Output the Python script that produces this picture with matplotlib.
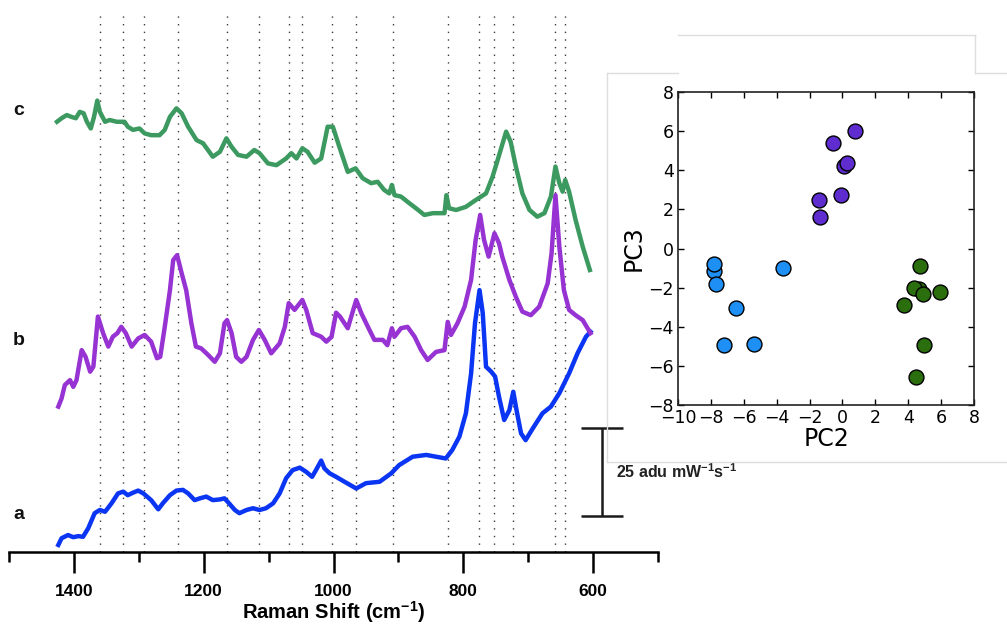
import matplotlib
matplotlib.use('Agg')
import matplotlib.pyplot as plt
from matplotlib.lines import Line2D

plt.rcParams['mathtext.fontset'] = 'custom'
plt.rcParams['mathtext.rm'] = 'Liberation Sans'
plt.rcParams['mathtext.bf'] = 'Liberation Sans:bold'

# ---- spectra (Raman shift in cm-1, intensity in adu mW-1 s-1, offset) ----
wn_c = [1426, 1419, 1411, 1404, 1397, 1391, 1385, 1380, 1374, 1369,
        1364, 1360, 1352, 1345, 1334, 1322, 1317, 1309, 1299, 1291,
        1281, 1268, 1260, 1252, 1242, 1234, 1224, 1211, 1201, 1186,
        1175, 1165, 1157, 1147, 1134, 1122, 1114, 1101, 1088, 1073,
        1065, 1057, 1048, 1040, 1029, 1019, 1009, 1001, 991, 978,
        966, 955, 942, 932, 922, 914, 910, 906, 896, 883,
        873, 860, 847, 829, 826, 822, 811, 796, 781, 765,
        755, 747, 741, 734, 727, 719, 709, 698, 686, 675,
        665, 658, 652, 647, 643, 637, 627, 616, 605]
int_c = [121.9, 122.9, 123.8, 123.3, 122.9, 124.7, 124.3, 121.9, 120.0, 123.3,
         127.9, 124.7, 121.9, 122.4, 121.9, 121.9, 120.5, 119.6, 120.0, 118.6,
         118.1, 118.1, 119.6, 123.3, 125.7, 124.3, 120.5, 116.7, 115.8, 112.0,
         113.4, 117.2, 114.8, 112.5, 112.0, 113.9, 113.0, 110.1, 109.6, 111.5,
         113.0, 111.5, 114.4, 113.4, 110.3, 111.5, 120.5, 120.5, 114.8, 107.7,
         108.7, 105.9, 104.5, 104.9, 102.6, 101.6, 104.0, 101.1, 100.7, 98.8,
         97.4, 95.5, 96.0, 96.0, 101.1, 97.4, 96.9, 97.8, 99.7, 101.6,
         106.3, 111.1, 114.8, 119.1, 116.2, 109.2, 101.6, 96.9, 95.0, 96.0,
         100.7, 109.2, 104.5, 102.1, 105.4, 102.1, 94.1, 86.5, 79.9]

wn_b = [1424, 1419, 1414, 1406, 1401, 1396, 1388, 1382, 1375, 1370,
        1363, 1355, 1347, 1340, 1333, 1327, 1320, 1311, 1301, 1291,
        1281, 1272, 1267, 1260, 1252, 1247, 1241, 1234, 1227, 1219,
        1212, 1204, 1193, 1183, 1175, 1168, 1164, 1157, 1150, 1142,
        1134, 1124, 1115, 1106, 1096, 1083, 1075, 1069, 1060, 1048,
        1042, 1032, 1019, 1011, 1003, 996, 990, 978, 965, 957,
        947, 937, 924, 917, 910, 906, 896, 886, 875, 865,
        855, 842, 829, 824, 819, 809, 798, 788, 781, 774,
        768, 761, 752, 745, 740, 729, 719, 709, 696, 683,
        670, 664, 658, 652, 645, 637, 627, 616, 604]
int_b = [41.2, 43.5, 47.3, 48.7, 46.8, 48.7, 57.2, 55.3, 51.1, 52.5,
         66.7, 62.0, 58.2, 61.0, 62.0, 63.8, 62.0, 58.2, 60.5, 61.5,
         59.6, 54.9, 55.3, 63.8, 74.2, 82.7, 84.1, 79.0, 74.2, 64.8,
         58.2, 57.7, 55.8, 53.9, 56.3, 64.8, 65.7, 62.0, 55.3, 53.9,
         55.3, 60.1, 62.9, 60.1, 56.3, 59.1, 63.8, 70.5, 68.6, 71.4,
         68.6, 62.0, 61.0, 59.6, 61.0, 67.8, 66.7, 63.4, 71.4, 67.6,
         63.8, 60.1, 60.1, 58.6, 63.4, 61.0, 63.4, 63.8, 61.0, 57.2,
         54.4, 56.7, 57.2, 65.2, 61.5, 64.8, 69.5, 77.1, 88.4, 95.5,
         88.4, 83.7, 90.3, 87.5, 83.7, 77.1, 72.3, 68.1, 67.1, 69.5,
         76.1, 84.6, 101.1, 86.5, 74.2, 68.6, 67.1, 65.7, 62.0]

wn_a = [1424, 1419, 1409, 1401, 1393, 1386, 1378, 1368, 1360, 1352,
        1342, 1332, 1324, 1317, 1309, 1301, 1293, 1281, 1270, 1263,
        1252, 1242, 1232, 1224, 1214, 1206, 1196, 1186, 1175, 1168,
        1160, 1152, 1145, 1134, 1124, 1114, 1104, 1093, 1083, 1073,
        1063, 1052, 1042, 1033, 1027, 1019, 1014, 1006, 996, 983,
        965, 950, 929, 911, 899, 878, 857, 842, 827, 817,
        806, 796, 788, 782, 775, 770, 765, 757, 751, 745,
        737, 729, 723, 718, 711, 704, 693, 678, 665, 652,
        637, 624, 611, 604]
int_a = [2.0, 3.9, 4.8, 4.2, 4.5, 4.3, 6.7, 11.0, 11.9, 11.4,
         13.8, 16.6, 17.1, 16.1, 16.8, 17.4, 16.6, 14.7, 12.1, 13.8,
         16.1, 17.4, 17.6, 16.6, 14.7, 15.2, 15.7, 14.7, 14.9, 15.2,
         13.6, 11.9, 11.0, 11.9, 12.4, 11.9, 12.4, 13.8, 16.6, 20.9,
         23.2, 23.9, 22.7, 21.3, 23.2, 25.9, 23.7, 22.3, 21.3, 19.9,
         18.0, 19.5, 19.9, 22.3, 24.6, 27.0, 27.5, 27.0, 26.5, 28.9,
         32.7, 39.3, 50.6, 64.8, 74.2, 67.6, 52.5, 51.1, 49.7, 44.0,
         37.4, 40.2, 45.4, 40.2, 33.6, 31.7, 35.0, 39.3, 41.2, 45.0,
         50.6, 56.3, 61.0, 62.4]

# band positions marked by dotted lines
bands = [1360, 1325, 1292, 1240, 1164, 1115, 1068, 1049, 1003, 965,
         909, 824, 776, 753, 724, 659, 644]

trace_labels = ['a', 'b', 'c']
label_y = [10.5, 59.8, 125.2]

# scale bar: 25 adu mW-1 s-1
bar_len = 25
bar_base = 10.2

# ---- PCA scores (inset) ----
pc2_blue = [-7.83, -7.83, -7.71, -6.46, -7.19, -5.40, -3.64]
pc3_blue = [-1.14, -0.77, -1.79, -3.03, -4.95, -4.87, -0.99]
pc2_purple = [0.77, -0.59, 0.12, 0.30, -0.06, -1.44, -1.34]
pc3_purple = [6.01, 5.41, 4.20, 4.36, 2.74, 2.49, 1.60]
pc2_green = [4.72, 4.68, 4.33, 4.88, 5.95, 3.74, 4.94, 4.49]
pc3_green = [-0.90, -2.09, -2.01, -2.31, -2.21, -2.91, -4.92, -6.57]

W, H = 1007, 625
fig = plt.figure(figsize=(W / 100, H / 100), dpi=100)
ax = fig.add_axes([9 / W, 73 / H, 649 / W, 552 / H])

ax.vlines(bands, 0, 153, colors='#3a3a3a', linestyles=(0, (1, 4.5)), linewidth=1.0)

ax.plot(wn_a, int_a, color='#0a35f2', lw=3.2, solid_joinstyle='round')
ax.plot(wn_b, int_b, color='#9633d2', lw=3.2, solid_joinstyle='round')
ax.plot(wn_c, int_c, color='#3c9a60', lw=3.2, solid_joinstyle='round')

ax.set_xlim(1500, 500)
ax.set_ylim(0, 156.4)

for lab, y in zip(trace_labels, label_y):
    ax.text(1485, y, lab, fontsize=14, fontweight='bold', family='Liberation Sans',
            ha='center', va='center', color='#111111')

# scale bar
ax.errorbar(587, bar_base + bar_len / 2, yerr=bar_len / 2, fmt='none', ecolor='#1a1a1a',
            elinewidth=1.8, capsize=15, capthick=1.8)
ax.text(565, bar_base + bar_len / 2, '25 adu mW$^{\\mathbf{-1}}$s$^{\\mathbf{-1}}$',
        fontsize=11.5, fontweight='bold', family='Liberation Sans', ha='left', va='center',
        color='#222222')

for side in ['top', 'left', 'right']:
    ax.spines[side].set_visible(False)
ax.spines['bottom'].set_linewidth(1.8)
ax.set_yticks([])
ax.set_xticks([1400, 1200, 1000, 800, 600])
ax.set_xticks([1500, 1300, 1100, 900, 700, 500], minor=True)
ax.set_xticklabels(['1400', '1200', '1000', '800', '600'], fontsize=12.5,
                   fontweight='bold', family='Liberation Sans')
ax.tick_params(axis='x', which='major', direction='out', length=15, width=1.8, pad=8)
ax.tick_params(axis='x', which='minor', direction='out', length=7, width=1.8)
ax.set_xlabel('Raman Shift (cm$^{\\mathbf{-1}}$)', fontsize=14.5, fontweight='bold',
              family='Liberation Sans', labelpad=0)

# faint frame of pasted inset
fc = '#dddddd'
segs = [((678, 35), (975, 35)), ((975, 35), (975, 73)), ((607, 73), (678, 73)),
        ((975, 73), (1007, 73)), ((607, 73), (607, 462)), ((607, 462), (1007, 462))]
for (x0, y0), (x1, y1) in segs:
    fig.add_artist(Line2D([x0 / W, x1 / W], [1 - y0 / H, 1 - y1 / H],
                          transform=fig.transFigure, color=fc, lw=1))

# inset scatter
ax2 = fig.add_axes([678 / W, (H - 405) / H, 296 / W, 313 / H])
ax2.scatter(pc2_blue, pc3_blue, s=115, c='#1e8ff5', edgecolors='black', linewidths=1, zorder=3)
ax2.scatter(pc2_purple, pc3_purple, s=115, c='#5e2ccf', edgecolors='black', linewidths=1, zorder=3)
ax2.scatter(pc2_green, pc3_green, s=115, c='#2b6e0d', edgecolors='black', linewidths=1, zorder=3)
ax2.set_xlim(-10, 8)
ax2.set_ylim(-8, 8)
ax2.set_xticks(range(-10, 9, 2))
ax2.set_yticks(range(-8, 9, 2))
ax2.tick_params(direction='in', top=True, right=True, length=4, width=1, labelsize=12.5, pad=3)
for s in ax2.spines.values():
    s.set_linewidth(1.2)
    s.set_color('#222222')
ax2.set_xlabel('PC2', fontsize=17, labelpad=0)
ax2.set_ylabel('PC3', fontsize=17, labelpad=2)

fig.savefig('out.png', dpi=100)
